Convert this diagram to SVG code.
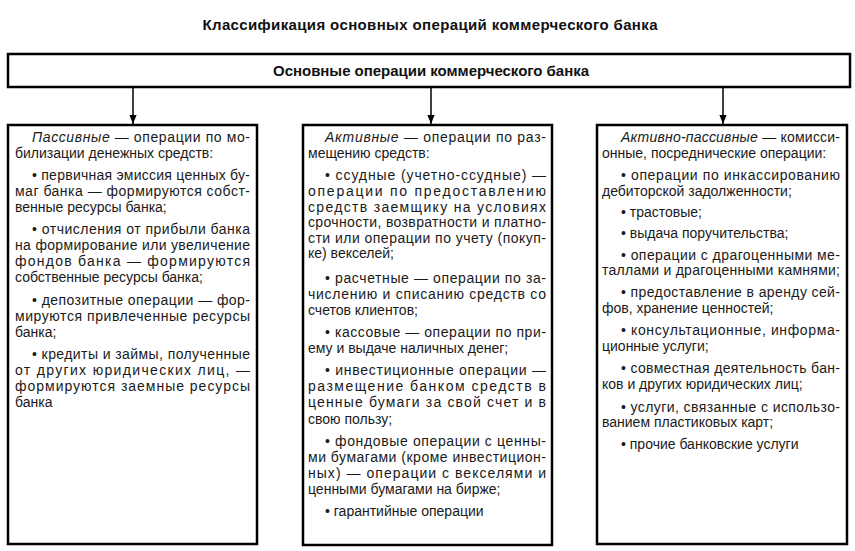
<svg xmlns="http://www.w3.org/2000/svg" width="855" height="551" viewBox="0 0 855 551">
<style>
.box{fill:#fff;stroke:#000;stroke-width:2.5}
.t{font-family:"Liberation Sans",Arial,sans-serif;font-size:14px;fill:#1a1a1a}
.h{font-family:"Liberation Sans",Arial,sans-serif;font-size:15px;font-weight:bold;fill:#111;text-anchor:middle}
.i{font-style:italic}
.c{stroke:#000;stroke-width:1.5;fill:none}
</style>
<defs>
<marker id="ah" viewBox="0 0 10 10" refX="10" refY="5" markerWidth="9" markerHeight="12" markerUnits="userSpaceOnUse" orient="auto">
<path d="M0,1 L10,5 L0,9 z" fill="#000"/>
</marker>
</defs>
<rect width="855" height="551" fill="#fff"/>
<text class="h" x="430" y="30" textLength="455" lengthAdjust="spacing">Классификация основных операций коммерческого банка</text>

<g id="root">
<rect class="box" x="8" y="54" width="842" height="33"/>
<text class="h" x="431" y="76" textLength="316" lengthAdjust="spacing">Основные операции коммерческого банка</text>
</g>

<g id="connectors">
<line class="c" x1="133" y1="87" x2="133" y2="124" marker-end="url(#ah)"/>
<line class="c" x1="431" y1="87" x2="431" y2="124" marker-end="url(#ah)"/>
<line class="c" x1="723" y1="87" x2="723" y2="124" marker-end="url(#ah)"/>
</g>

<g id="passive">
<rect class="box" x="8" y="125" width="249" height="419"/>
<text class="t" x="32" y="142" textLength="218" lengthAdjust="spacing"><tspan class="i">Пассивные</tspan> — операции по мо-</text>
<text class="t" x="15" y="158">билизации денежных средств:</text>
<text class="t" x="32" y="180" textLength="218" lengthAdjust="spacing">• первичная эмиссия ценных бу-</text>
<text class="t" x="15" y="196" textLength="235" lengthAdjust="spacing">маг банка — формируются собст-</text>
<text class="t" x="15" y="212">венные ресурсы банка;</text>
<text class="t" x="32" y="234" textLength="218" lengthAdjust="spacing">• отчисления от прибыли банка</text>
<text class="t" x="15" y="250" textLength="235" lengthAdjust="spacing">на формирование или увеличение</text>
<text class="t" x="15" y="266" textLength="235" lengthAdjust="spacing">фондов банка — формируются</text>
<text class="t" x="15" y="282">собственные ресурсы банка;</text>
<text class="t" x="32" y="305" textLength="218" lengthAdjust="spacing">• депозитные операции — фор-</text>
<text class="t" x="15" y="321" textLength="235" lengthAdjust="spacing">мируются привлеченные ресурсы</text>
<text class="t" x="15" y="337">банка;</text>
<text class="t" x="32" y="359" textLength="218" lengthAdjust="spacing">• кредиты и займы, полученные</text>
<text class="t" x="15" y="375" textLength="235" lengthAdjust="spacing">от других юридических лиц, —</text>
<text class="t" x="15" y="391" textLength="235" lengthAdjust="spacing">формируются заемные ресурсы</text>
<text class="t" x="15" y="407">банка</text>
</g>

<g id="active">
<rect class="box" x="303" y="125" width="249" height="420"/>
<text class="t" x="325" y="142" textLength="221" lengthAdjust="spacing"><tspan class="i">Активные</tspan> — операции по раз-</text>
<text class="t" x="308" y="158">мещению средств:</text>
<text class="t" x="325" y="180" textLength="221" lengthAdjust="spacing">• ссудные (учетно-ссудные) —</text>
<text class="t" x="308" y="196" textLength="238" lengthAdjust="spacing">операции по предоставлению</text>
<text class="t" x="308" y="212" textLength="238" lengthAdjust="spacing">средств заемщику на условиях</text>
<text class="t" x="308" y="227" textLength="238" lengthAdjust="spacing">срочности, возвратности и платно-</text>
<text class="t" x="308" y="243" textLength="238" lengthAdjust="spacing">сти или операции по учету (покуп-</text>
<text class="t" x="308" y="258">ке) векселей;</text>
<text class="t" x="325" y="283" textLength="221" lengthAdjust="spacing">• расчетные — операции по за-</text>
<text class="t" x="308" y="299" textLength="238" lengthAdjust="spacing">числению и списанию средств со</text>
<text class="t" x="308" y="315">счетов клиентов;</text>
<text class="t" x="325" y="337" textLength="221" lengthAdjust="spacing">• кассовые — операции по при-</text>
<text class="t" x="308" y="353">ему и выдаче наличных денег;</text>
<text class="t" x="325" y="375" textLength="221" lengthAdjust="spacing">• инвестиционные операции —</text>
<text class="t" x="308" y="391" textLength="238" lengthAdjust="spacing">размещение банком средств в</text>
<text class="t" x="308" y="407" textLength="238" lengthAdjust="spacing">ценные бумаги за свой счет и в</text>
<text class="t" x="308" y="424">свою пользу;</text>
<text class="t" x="325" y="446" textLength="221" lengthAdjust="spacing">• фондовые операции с ценны-</text>
<text class="t" x="308" y="462" textLength="238" lengthAdjust="spacing">ми бумагами (кроме инвестицион-</text>
<text class="t" x="308" y="478" textLength="238" lengthAdjust="spacing">ных) — операции с векселями и</text>
<text class="t" x="308" y="494">ценными бумагами на бирже;</text>
<text class="t" x="325" y="516">• гарантийные операции</text>
</g>

<g id="active-passive">
<rect class="box" x="597" y="125" width="250" height="419"/>
<text class="t" x="621" y="142" textLength="219" lengthAdjust="spacing"><tspan class="i">Активно-пассивные</tspan> — комисси-</text>
<text class="t" x="602" y="158">онные, посреднические операции:</text>
<text class="t" x="621" y="180" textLength="219" lengthAdjust="spacing">• операции по инкассированию</text>
<text class="t" x="602" y="196">дебиторской задолженности;</text>
<text class="t" x="621" y="217">• трастовые;</text>
<text class="t" x="621" y="238">• выдача поручительства;</text>
<text class="t" x="621" y="260" textLength="219" lengthAdjust="spacing">• операции с драгоценными ме-</text>
<text class="t" x="602" y="275" textLength="238" lengthAdjust="spacing">таллами и драгоценными камнями;</text>
<text class="t" x="621" y="297" textLength="219" lengthAdjust="spacing">• предоставление в аренду сей-</text>
<text class="t" x="602" y="313">фов, хранение ценностей;</text>
<text class="t" x="621" y="335" textLength="219" lengthAdjust="spacing">• консультационные, информа-</text>
<text class="t" x="602" y="351">ционные услуги;</text>
<text class="t" x="621" y="373" textLength="219" lengthAdjust="spacing">• совместная деятельность бан-</text>
<text class="t" x="602" y="389">ков и других юридических лиц;</text>
<text class="t" x="621" y="412" textLength="219" lengthAdjust="spacing">• услуги, связанные с использо-</text>
<text class="t" x="602" y="427">ванием пластиковых карт;</text>
<text class="t" x="621" y="449">• прочие банковские услуги</text>
</g>
</svg>
